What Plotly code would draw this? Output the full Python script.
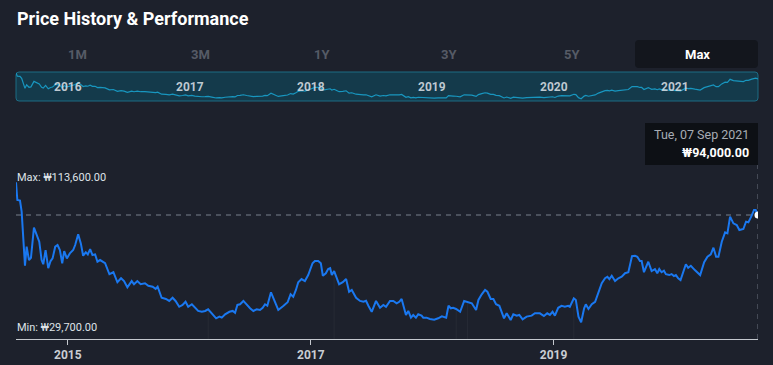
import plotly.graph_objects as go
import pandas as pd

W, H = 773, 365

# ---------------- data ----------------
dates = [
    "2015-07-29", "2015-08-02", "2015-08-10", "2015-08-15", "2015-08-25", "2015-08-30", "2015-09-06", "2015-09-12",
    "2015-09-21", "2015-10-01", "2015-10-07", "2015-10-14", "2015-10-19", "2015-10-26", "2015-11-03", "2015-11-10",
    "2015-11-16", "2015-11-24", "2015-12-01", "2015-12-08", "2015-12-15", "2015-12-21", "2015-12-29", "2016-01-07",
    "2016-01-17", "2016-01-23", "2016-02-01", "2016-02-09", "2016-02-16", "2016-02-24", "2016-03-01", "2016-03-08",
    "2016-03-15", "2016-03-23", "2016-03-30", "2016-04-07", "2016-04-22", "2016-05-05", "2016-05-17", "2016-05-29",
    "2016-06-09", "2016-06-18", "2016-06-28", "2016-07-11", "2016-07-18", "2016-07-28", "2016-08-07", "2016-08-20",
    "2016-08-30", "2016-09-12", "2016-09-21", "2016-09-27", "2016-10-09", "2016-10-22", "2016-11-01", "2016-11-11",
    "2016-11-20", "2016-12-01", "2016-12-11", "2016-12-20", "2016-12-28", "2017-01-08", "2017-01-17", "2017-01-27",
    "2017-02-07", "2017-02-17", "2017-02-26", "2017-03-09", "2017-03-22", "2017-04-01", "2017-04-08", "2017-04-18",
    "2017-05-01", "2017-05-11", "2017-05-18", "2017-05-25", "2017-06-02", "2017-06-12", "2017-06-22", "2017-07-02",
    "2017-07-12", "2017-07-22", "2017-08-01", "2017-08-09", "2017-08-16", "2017-08-23", "2017-09-03", "2017-09-15",
    "2017-09-25", "2017-10-10", "2017-10-23", "2017-11-01", "2017-11-09", "2017-11-17", "2017-11-24", "2017-12-04",
    "2017-12-14", "2017-12-24", "2018-01-06", "2018-01-13", "2018-01-23", "2018-01-31", "2018-02-06", "2018-02-15",
    "2018-02-22", "2018-02-28", "2018-03-05", "2018-03-12", "2018-03-18", "2018-03-27", "2018-04-07", "2018-04-17",
    "2018-04-26", "2018-05-04", "2018-05-17", "2018-05-29", "2018-06-08", "2018-06-16", "2018-06-23", "2018-07-03",
    "2018-07-16", "2018-07-28", "2018-08-07", "2018-08-15", "2018-08-27", "2018-09-06", "2018-09-16", "2018-09-24",
    "2018-10-01", "2018-10-14", "2018-10-21", "2018-10-29", "2018-11-05", "2018-11-13", "2018-11-20", "2018-11-30",
    "2018-12-05", "2018-12-15", "2018-12-25", "2019-01-07", "2019-01-19", "2019-01-30", "2019-02-12", "2019-02-19",
    "2019-02-26", "2019-03-05", "2019-03-14", "2019-03-26", "2019-04-07", "2019-04-17", "2019-04-30", "2019-05-13",
    "2019-05-20", "2019-05-30", "2019-06-09", "2019-06-16", "2019-06-26", "2019-07-04", "2019-07-12", "2019-07-22",
    "2019-08-05", "2019-08-13", "2019-08-25", "2019-09-02", "2019-09-12", "2019-09-20", "2019-09-30", "2019-10-12",
    "2019-10-27", "2019-11-06", "2019-11-21", "2019-12-03", "2019-12-13", "2019-12-21", "2019-12-29", "2020-01-05",
    "2020-01-15", "2020-01-25", "2020-02-04", "2020-02-14", "2020-02-19", "2020-03-02", "2020-03-08", "2020-03-16",
    "2020-03-24", "2020-04-02", "2020-04-07", "2020-04-15", "2020-04-25", "2020-05-05", "2020-05-15", "2020-05-25",
    "2020-06-04", "2020-06-11", "2020-06-17", "2020-06-24", "2020-07-04", "2020-07-14", "2020-07-24", "2020-08-03",
    "2020-08-13", "2020-08-24", "2020-09-02", "2020-09-09", "2020-09-17", "2020-09-22", "2020-09-29", "2020-10-12",
    "2020-10-22", "2020-11-01", "2020-11-08", "2020-11-14", "2020-11-21", "2020-11-28", "2020-12-04", "2020-12-14",
    "2020-12-21", "2020-12-28", "2021-01-03", "2021-01-10", "2021-01-17", "2021-01-23", "2021-02-02", "2021-02-09",
    "2021-02-17", "2021-03-01", "2021-03-17", "2021-03-29", "2021-04-08", "2021-04-18", "2021-04-26", "2021-05-04",
    "2021-05-11", "2021-05-21", "2021-05-31", "2021-06-07", "2021-06-15", "2021-06-25", "2021-07-05", "2021-07-13",
    "2021-07-25", "2021-08-02", "2021-08-09", "2021-08-19", "2021-08-26", "2021-08-31", "2021-09-07",
]
prices = [
    113600, 103000, 102600, 96000, 63600, 75000, 67000, 68400,
    86400, 81000, 78000, 67000, 64500, 73000, 62100, 66400,
    68000, 75000, 76000, 73000, 65100, 72400, 68000, 71000,
    73000, 76000, 82400, 77000, 69600, 71600, 70400, 73600,
    70000, 70400, 66000, 67000, 65100, 58500, 59700, 53700,
    56100, 54400, 50700, 54400, 52500, 54400, 52500, 53100,
    51600, 51000, 49700, 51000, 44400, 43700, 42500, 44400,
    42500, 39000, 40100, 42000, 39000, 40500, 38400, 36500,
    36000, 36500, 37500, 35100, 32100, 33100, 32500, 34500,
    36000, 36500, 35400, 40100, 40500, 42500, 40100, 38100,
    36500, 37500, 37100, 38400, 40500, 39600, 47700, 42000,
    37100, 39500, 41700, 46500, 45000, 49100, 53700, 55600,
    54400, 58000, 65100, 66400, 66400, 65100, 57600, 59100,
    61600, 62100, 58000, 60400, 57400, 52500, 53700, 55600,
    48000, 49100, 44400, 42500, 42000, 42600, 39600, 36000,
    42500, 38400, 40100, 39000, 42500, 42500, 41100, 42000,
    43700, 34100, 36500, 32500, 34100, 32500, 34500, 33700,
    32500, 32500, 31700, 31300, 32100, 33300, 32500, 39600,
    38100, 38400, 37700, 36000, 42500, 41700, 41100, 37100,
    43100, 46500, 49100, 48000, 43700, 43700, 40500, 39600,
    32100, 35100, 31100, 34500, 33700, 34100, 31500, 33100,
    33700, 35100, 35100, 33500, 35100, 34100, 36000, 33700,
    38400, 39600, 39000, 39600, 39000, 44100, 43100, 33100,
    29700, 38100, 40500, 37700, 40500, 42000, 48000, 53100,
    56100, 57000, 55600, 57600, 54400, 56100, 57000, 59100,
    59700, 69400, 69600, 69000, 66400, 66400, 59700, 66000,
    60400, 61600, 59100, 61600, 59700, 60600, 58500, 58000,
    58600, 57400, 58000, 56100, 55000, 58500, 64500, 62400,
    63600, 61000, 58000, 65700, 69000, 70400, 74400, 69000,
    69000, 78000, 83600, 83000, 93000, 89000, 88000, 85000,
    85600, 90000, 89600, 93600, 97000, 97000, 94000,
]

max_price = 113600
min_price = 29700
last_date = "2021-09-07"
last_price = 94000

axis_tick_dates = ["2016-01-01", "2018-01-01", "2020-01-01"]
axis_tick_labels = ["2015", "2017", "2019"]
nav_years = ["2016", "2017", "2018", "2019", "2020", "2021"]
range_buttons = ["1M", "3M", "1Y", "3Y", "5Y", "Max"]
selected_button = "Max"
event_dates = ["2017-02-26", "2018-03-12", "2019-03-14", "2019-04-17", "2020-03-02"]
event_prices = [37500, 60400, 37700, 41700, 44100]

# ---------------- styling ----------------
BG = "#1d212c"
FONT = "Roboto"


def px(x):
    return x / W


def py(y):
    return 1 - y / H


def rounded_rect(x0, y0, x1, y1, r):
    rx, ry = r / W, r / H
    X0, X1 = px(x0), px(x1)
    Y0, Y1 = py(y1), py(y0)  # bottom, top in paper coords
    return (f"M {X0+rx},{Y0} L {X1-rx},{Y0} Q {X1},{Y0} {X1},{Y0+ry} "
            f"L {X1},{Y1-ry} Q {X1},{Y1} {X1-rx},{Y1} L {X0+rx},{Y1} "
            f"Q {X0},{Y1} {X0},{Y1-ry} L {X0},{Y0+ry} Q {X0},{Y0} {X0+rx},{Y0} Z")


fig = go.Figure()

# main price line
fig.add_trace(go.Scatter(
    x=dates, y=prices, mode="lines",
    line=dict(color="#1a78f0", width=2), xaxis="x", yaxis="y",
    hoverinfo="skip", showlegend=False,
))
# end point marker
fig.add_trace(go.Scatter(
    x=[last_date], y=[last_price], mode="markers",
    marker=dict(color="white", size=7), xaxis="x", yaxis="y",
    hoverinfo="skip", showlegend=False,
))
# navigator line
fig.add_trace(go.Scatter(
    x=dates, y=prices, mode="lines",
    line=dict(color="#1896bf", width=1.2), xaxis="x2", yaxis="y2",
    hoverinfo="skip", showlegend=False,
))

x_dom = [px(16), px(758)]
xrange_ = [dates[0], last_date]

shapes = []
# navigator box
shapes.append(dict(type="path", xref="paper", yref="paper", path=rounded_rect(16, 72, 758, 101, 3),
                   fillcolor="#143a4b", line=dict(color="#1d6c84", width=1), layer="below"))
# selected button box
shapes.append(dict(type="path", xref="paper", yref="paper", path=rounded_rect(635, 40, 758, 68, 4),
                   fillcolor="#13161d", line=dict(width=0), layer="below"))
# tooltip box
shapes.append(dict(type="rect", xref="paper", yref="paper", x0=px(645), x1=px(758), y0=py(165), y1=py(123),
                   fillcolor="#0d1015", line=dict(width=0)))
# faint event lines
for d, p in zip(event_dates, event_prices):
    shapes.append(dict(type="line", xref="x", yref="y", x0=d, x1=d, y0=19700, y1=p,
                       line=dict(color="rgba(255,255,255,0.045)", width=1), layer="below"))
# current price dashed lines
shapes.append(dict(type="line", xref="x", yref="y", x0=dates[0], x1=last_date, y0=last_price, y1=last_price,
                   line=dict(color="#5a606c", width=1.3, dash="5px,5px"), layer="below"))
shapes.append(dict(type="line", xref="x", yref="paper", x0=last_date, x1=last_date, y0=py(339), y1=py(165),
                   line=dict(color="#5a606c", width=1.3, dash="5px,5px"), layer="below"))

annotations = []
annotations.append(dict(xref="paper", yref="paper", x=px(15), y=py(18), xanchor="left", yanchor="middle",
                        text="<b>Price History & Performance</b>", showarrow=False,
                        font=dict(family=FONT, size=18, color="#ffffff")))
btn_x = [77, 200, 322, 449, 572, 697]
for b, bx in zip(range_buttons, btn_x):
    annotations.append(dict(xref="paper", yref="paper", x=px(bx), y=py(54), xanchor="center", yanchor="middle",
                            text=f"<b>{b}</b>", showarrow=False,
                            font=dict(family=FONT, size=13,
                                      color="#ffffff" if b == selected_button else "#565b66")))
for yr in nav_years:
    annotations.append(dict(xref="x2", yref="paper", x=f"{yr}-01-01", y=py(87), xanchor="center", yanchor="middle",
                            text=f"<b>{yr}</b>", showarrow=False,
                            font=dict(family=FONT, size=12, color="rgba(215,222,228,0.88)")))
annotations.append(dict(xref="paper", yref="paper", x=px(15), y=py(177), xanchor="left", yanchor="middle",
                        text=f"Max: ₩{max_price:,.2f}", showarrow=False,
                        font=dict(family=FONT, size=11, color="#dfe3e8")))
annotations.append(dict(xref="paper", yref="paper", x=px(15), y=py(327), xanchor="left", yanchor="middle",
                        text=f"Min: ₩{min_price:,.2f}", showarrow=False,
                        font=dict(family=FONT, size=11, color="#dfe3e8")))
annotations.append(dict(xref="paper", yref="paper", x=px(751), y=py(134), xanchor="right", yanchor="middle",
                        text=pd.Timestamp(last_date).strftime("%a, %d %b %Y"), showarrow=False,
                        font=dict(family=FONT, size=12.5, color="#a7acb4")))
annotations.append(dict(xref="paper", yref="paper", x=px(751), y=py(153), xanchor="right", yanchor="middle",
                        text=f"<b>₩{last_price:,.2f}</b>", showarrow=False,
                        font=dict(family=FONT, size=12.5, color="#ffffff")))

fig.update_layout(
    width=W, height=H,
    margin=dict(l=0, r=0, t=0, b=0),
    paper_bgcolor=BG, plot_bgcolor=BG,
    showlegend=False,
    font=dict(family=FONT),
    xaxis=dict(domain=x_dom, range=xrange_, anchor="y", showgrid=False, zeroline=False,
               showline=True, linecolor="#c4c8ce", linewidth=1,
               ticks="outside", ticklen=5, tickcolor="#c4c8ce",
               tickvals=axis_tick_dates, ticktext=[f"<b>{t}</b>" for t in axis_tick_labels],
               tickfont=dict(family=FONT, size=12, color="#c9cdd3")),
    yaxis=dict(domain=[py(339), py(110)], range=[19700, 156900], visible=False, anchor="x"),
    xaxis2=dict(domain=x_dom, range=xrange_, anchor="y2", visible=False),
    yaxis2=dict(domain=[py(101), py(72)], range=[22200, 116900], visible=False, anchor="x2"),
    shapes=shapes,
    annotations=annotations,
)

fig.write_html(
    "out.html",
    config={"displayModeBar": False},
    post_script="document.body.style.margin='0px';document.body.style.background='" + BG + "';",
)
